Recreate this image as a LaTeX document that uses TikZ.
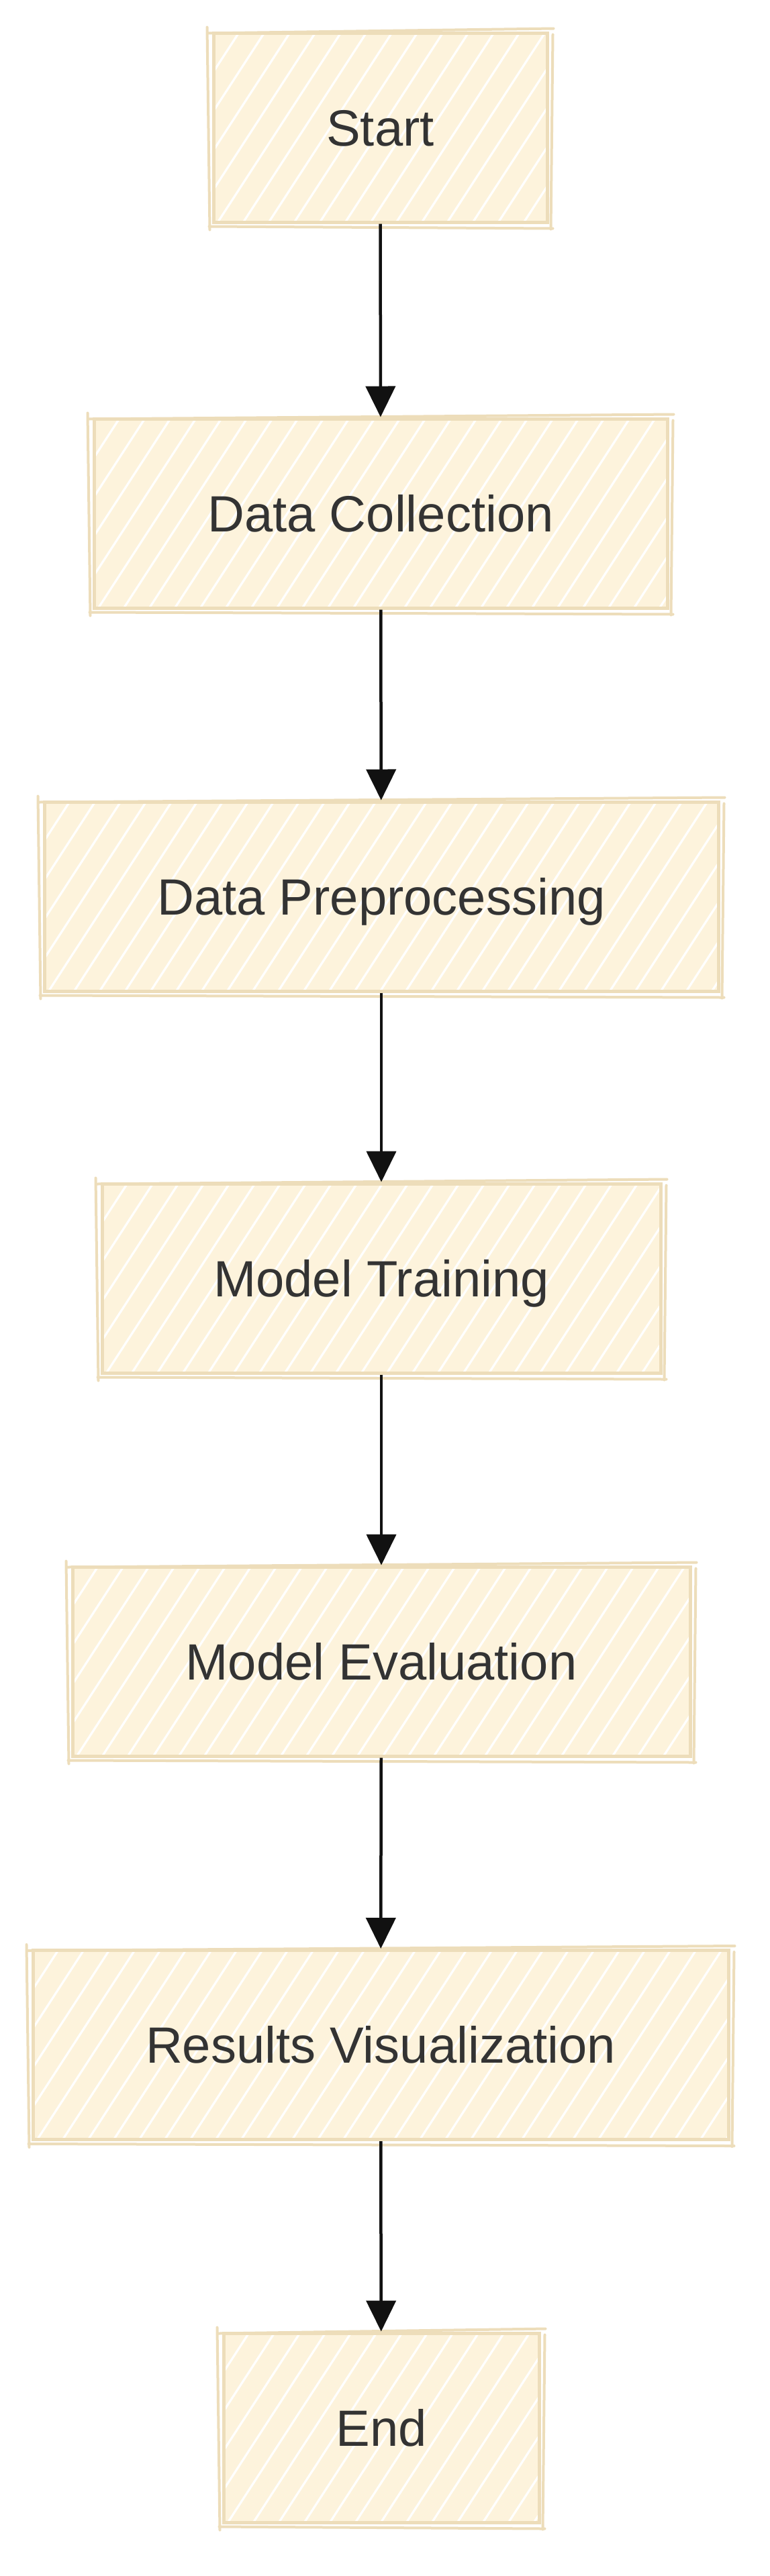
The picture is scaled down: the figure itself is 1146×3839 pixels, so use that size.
\documentclass[tikz,border=0pt]{standalone}
\usepackage{fontspec}
\setmainfont{Liberation Sans}
\usetikzlibrary{arrows.meta,calc}
\definecolor{boxfill}{HTML}{FDF3DC}
\definecolor{boxline}{HTML}{EDDDBA}
\definecolor{txt}{HTML}{333333}
\definecolor{arrowcol}{HTML}{111111}
\newcommand{\lblfont}{\fontsize{76}{90}\selectfont}
\newcommand{\roughen}[1]{%
  \draw[sketchline] ($(#1.north west)+(-6pt,-3pt)$) -- ($(#1.north east)+(7pt,4pt)$);
  \draw[sketchline] ($(#1.south west)+(-4pt,-4pt)$) -- ($(#1.south east)+(6pt,-7pt)$);
  \draw[sketchline] ($(#1.north west)+(-7pt,6pt)$) -- ($(#1.south west)+(-3pt,-9pt)$);
  \draw[sketchline] ($(#1.north east)+(6pt,-5pt)$) -- ($(#1.south east)+(3pt,-8pt)$);
}
\tikzset{
  flowbox/.style={rectangle, fill=boxfill, draw=boxline, line width=5pt,
    inner sep=0pt, minimum height=282pt, text=txt, font=\lblfont,
    text height=54pt, text depth=0pt,
    path picture={\foreach \k in {-12,...,30}{\draw[white, line width=3.2pt]
      ($(path picture bounding box.south west)+(\k*38pt,-10pt)$) -- ++(57:400pt);}}},
  flowarrow/.style={draw=arrowcol, line width=4.5pt, -{Triangle[length=46pt,width=44pt]}},
  sketchline/.style={draw=boxline, line width=4pt, line cap=round}
}
\begin{document}
\begin{tikzpicture}[x=1pt,y=-1pt]
  \useasboundingbox (0,0) rectangle (1146,3839);
  \fill[white] (0,0) rectangle (1146,3839);

  \node[flowbox, minimum width=497pt]  (start) at (566.5,190)  {Start};
  \node[flowbox, minimum width=854pt]  (dc)    at (567,765)    {Data Collection};
  \node[flowbox, minimum width=1004pt] (dp)    at (568,1336)   {Data Preprocessing};
  \node[flowbox, minimum width=832pt]  (mt)    at (568,1905)   {Model Training};
  \node[flowbox, minimum width=920pt]  (me)    at (568,2476)   {Model Evaluation};
  \node[flowbox, minimum width=1036pt] (rv)    at (567,3047.5) {Results Visualization};
  \node[flowbox, minimum width=470pt]  (end)   at (568,3618)   {End};

  \foreach \n in {start,dc,dp,mt,me,rv,end}{\roughen{\n}}

  \draw[flowarrow] (start) -- (dc);
  \draw[flowarrow] (dc) -- (dp);
  \draw[flowarrow] (dp) -- (mt);
  \draw[flowarrow] (mt) -- (me);
  \draw[flowarrow] (me) -- (rv);
  \draw[flowarrow] (rv) -- (end);
\end{tikzpicture}
\end{document}
